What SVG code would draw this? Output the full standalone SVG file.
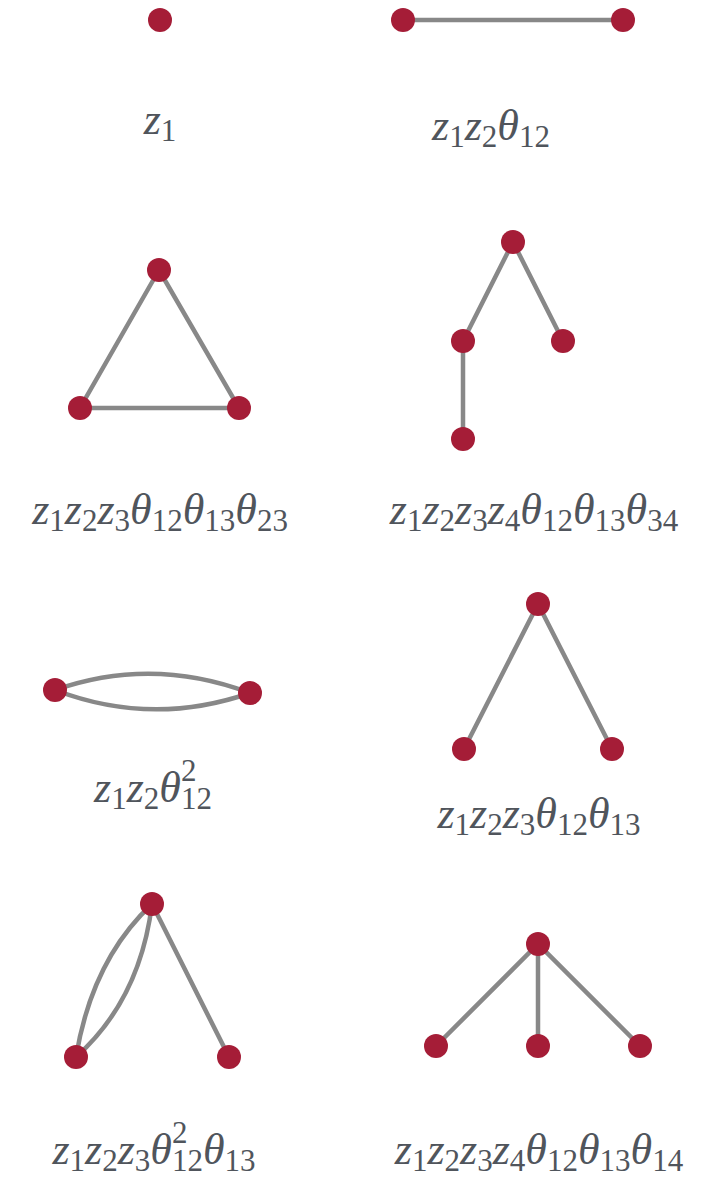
<svg xmlns="http://www.w3.org/2000/svg" width="705" height="1182" viewBox="0 0 705 1182">
<style>
.n{fill:#a51d37}
.e{stroke:#888;stroke-width:4.5;fill:none;stroke-linecap:round}
.l{font-family:"Liberation Serif",serif;font-size:44px;fill:#50555c;text-anchor:middle}
.v{font-style:italic}
.s{font-size:31px}
</style>
<rect width="705" height="1182" fill="#fff"/>
<g id="edges">
<line class="e" x1="403" y1="20" x2="623" y2="20"/>
<path class="e" d="M159,270 L80,408 L239,408 Z"/>
<path class="e" d="M463,439 L463,341 L513,242 L563,341"/>
<path class="e" d="M55,690 Q152,656 250,693"/>
<path class="e" d="M55,690 Q152,727 250,693"/>
<path class="e" d="M464,749 L538,604 L612,749"/>
<path class="e" d="M152,904 Q92,960 76,1057"/>
<path class="e" d="M152,904 Q140,1000 76,1057"/>
<line class="e" x1="152" y1="904" x2="229" y2="1057"/>
<path class="e" d="M436,1046 L538,944 L640,1046 M538,944 L538,1046"/>
</g>
<g id="g1"><circle class="n" cx="160" cy="20" r="12"/>
<text class="l" x="160" y="134"><tspan class="v">z</tspan><tspan class="s" dy="7">1</tspan></text></g>
<g id="g2"><circle class="n" cx="403" cy="20" r="12"/><circle class="n" cx="623" cy="20" r="12"/>
<text class="l" x="491" y="140"><tspan class="v">z</tspan><tspan class="s" dy="7">1</tspan><tspan class="v" dy="-7">z</tspan><tspan class="s" dy="7">2</tspan><tspan class="v" dy="-7">θ</tspan><tspan class="s" dy="7">12</tspan></text></g>
<g id="g3"><circle class="n" cx="159" cy="270" r="12"/><circle class="n" cx="80" cy="408" r="12"/><circle class="n" cx="239" cy="408" r="12"/>
<text class="l" x="160" y="524"><tspan class="v">z</tspan><tspan class="s" dy="7">1</tspan><tspan class="v" dy="-7">z</tspan><tspan class="s" dy="7">2</tspan><tspan class="v" dy="-7">z</tspan><tspan class="s" dy="7">3</tspan><tspan class="v" dy="-7">θ</tspan><tspan class="s" dy="7">12</tspan><tspan class="v" dy="-7">θ</tspan><tspan class="s" dy="7">13</tspan><tspan class="v" dy="-7">θ</tspan><tspan class="s" dy="7">23</tspan></text></g>
<g id="g4"><circle class="n" cx="513" cy="242" r="12"/><circle class="n" cx="463" cy="341" r="12"/><circle class="n" cx="563" cy="341" r="12"/><circle class="n" cx="463" cy="439" r="12"/>
<text class="l" x="534" y="524"><tspan class="v">z</tspan><tspan class="s" dy="7">1</tspan><tspan class="v" dy="-7">z</tspan><tspan class="s" dy="7">2</tspan><tspan class="v" dy="-7">z</tspan><tspan class="s" dy="7">3</tspan><tspan class="v" dy="-7">z</tspan><tspan class="s" dy="7">4</tspan><tspan class="v" dy="-7">θ</tspan><tspan class="s" dy="7">12</tspan><tspan class="v" dy="-7">θ</tspan><tspan class="s" dy="7">13</tspan><tspan class="v" dy="-7">θ</tspan><tspan class="s" dy="7">34</tspan></text></g>
<g id="g5"><circle class="n" cx="55" cy="690" r="12"/><circle class="n" cx="250" cy="693" r="12"/>
<text class="l" x="153" y="802"><tspan class="v">z</tspan><tspan class="s" dy="7">1</tspan><tspan class="v" dy="-7">z</tspan><tspan class="s" dy="7">2</tspan><tspan class="v" dy="-7">θ</tspan><tspan class="s" dy="-21">2</tspan><tspan class="s" dx="-15.5" dy="28">12</tspan></text></g>
<g id="g6"><circle class="n" cx="538" cy="604" r="12"/><circle class="n" cx="464" cy="749" r="12"/><circle class="n" cx="612" cy="749" r="12"/>
<text class="l" x="539" y="828"><tspan class="v">z</tspan><tspan class="s" dy="7">1</tspan><tspan class="v" dy="-7">z</tspan><tspan class="s" dy="7">2</tspan><tspan class="v" dy="-7">z</tspan><tspan class="s" dy="7">3</tspan><tspan class="v" dy="-7">θ</tspan><tspan class="s" dy="7">12</tspan><tspan class="v" dy="-7">θ</tspan><tspan class="s" dy="7">13</tspan></text></g>
<g id="g7"><circle class="n" cx="152" cy="904" r="12"/><circle class="n" cx="76" cy="1057" r="12"/><circle class="n" cx="229" cy="1057" r="12"/>
<text class="l" x="154" y="1164"><tspan class="v">z</tspan><tspan class="s" dy="7">1</tspan><tspan class="v" dy="-7">z</tspan><tspan class="s" dy="7">2</tspan><tspan class="v" dy="-7">z</tspan><tspan class="s" dy="7">3</tspan><tspan class="v" dy="-7">θ</tspan><tspan class="s" dy="-21">2</tspan><tspan class="s" dx="-15.5" dy="28">12</tspan><tspan class="v" dy="-7">θ</tspan><tspan class="s" dy="7">13</tspan></text></g>
<g id="g8"><circle class="n" cx="538" cy="944" r="12"/><circle class="n" cx="436" cy="1046" r="12"/><circle class="n" cx="538" cy="1046" r="12"/><circle class="n" cx="640" cy="1046" r="12"/>
<text class="l" x="539" y="1164"><tspan class="v">z</tspan><tspan class="s" dy="7">1</tspan><tspan class="v" dy="-7">z</tspan><tspan class="s" dy="7">2</tspan><tspan class="v" dy="-7">z</tspan><tspan class="s" dy="7">3</tspan><tspan class="v" dy="-7">z</tspan><tspan class="s" dy="7">4</tspan><tspan class="v" dy="-7">θ</tspan><tspan class="s" dy="7">12</tspan><tspan class="v" dy="-7">θ</tspan><tspan class="s" dy="7">13</tspan><tspan class="v" dy="-7">θ</tspan><tspan class="s" dy="7">14</tspan></text></g>
</svg>
